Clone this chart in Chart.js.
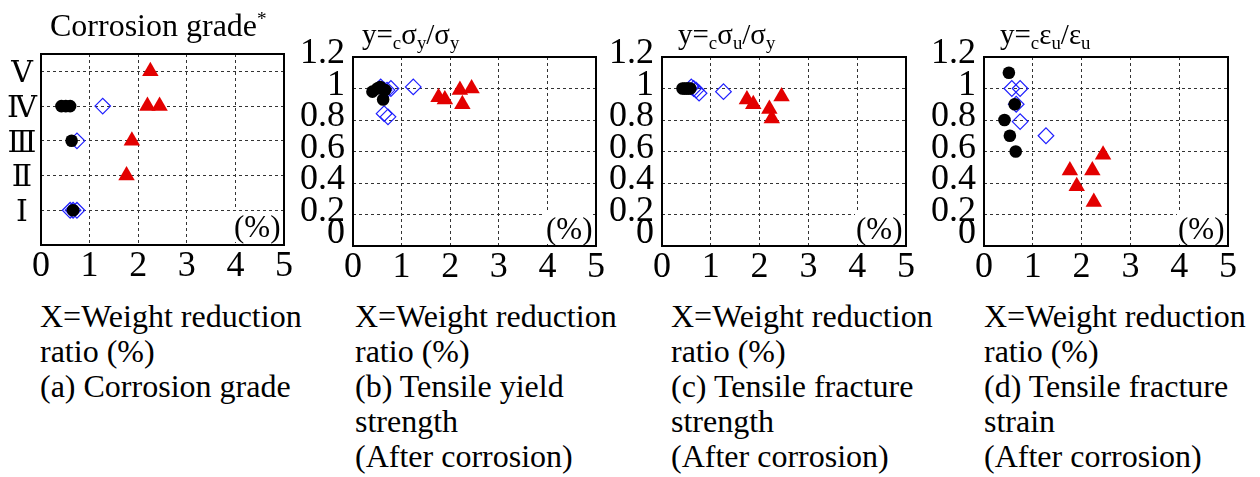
<!DOCTYPE html>
<html>
<head>
<meta charset="utf-8">
<script src="https://cdn.jsdelivr.net/npm/chart.js@4.4.1/dist/chart.umd.min.js"></script>
<style>
  body { margin: 0; width: 1260px; height: 477px; background: #fff; overflow: hidden; position: relative;
         font-family: 'Times New Roman', Tinos, 'Liberation Serif', 'Nimbus Roman', 'DejaVu Serif', 'Noto Serif', serif; color: #000; }
  canvas { position: absolute; }
  .title { position: absolute; white-space: nowrap; }
  .title sub { font-size: 0.65em; vertical-align: -0.28em; line-height: 0; }
  .title sup { font-size: 0.6em; vertical-align: 0.55em; line-height: 0; }
  .cap { position: absolute; top: 299px; font-size: 32px; line-height: 35px; white-space: nowrap; }
  .pct { position: absolute; font-size: 31px; line-height: 31px; background: #fff; z-index: 5; padding: 0 1px; }
</style>
</head>
<body>
<canvas id="chartA" width="300" height="256" style="left:0px;top:34px"></canvas>
<canvas id="chartB" width="319" height="254" style="left:293px;top:37px"></canvas>
<canvas id="chartC" width="320" height="254" style="left:602px;top:37px"></canvas>
<canvas id="chartD" width="320" height="254" style="left:924px;top:37px"></canvas>

<div class="title" style="left:50px;top:9px;font-size:32px;line-height:32px">Corrosion grade<sup>*</sup></div>
<div class="title" style="left:362px;top:20px;font-size:29px;line-height:29px">y=<sub>c</sub>σ<sub>y</sub>/σ<sub>y</sub></div>
<div class="title" style="left:678px;top:20px;font-size:29px;line-height:29px">y=<sub>c</sub>σ<sub>u</sub>/σ<sub>y</sub></div>
<div class="title" style="left:1000px;top:20px;font-size:29px;line-height:29px">y=<sub>c</sub>ε<sub>u</sub>/ε<sub>u</sub></div>

<div class="pct" style="left:233px;top:211px">(%)</div>
<div class="pct" style="left:545px;top:213px">(%)</div>
<div class="pct" style="left:855px;top:213px">(%)</div>
<div class="pct" style="left:1177px;top:213px">(%)</div>

<div class="cap" style="left:40px">X=Weight reduction<br>ratio (%)<br>(a) Corrosion grade</div>
<div class="cap" style="left:355px">X=Weight reduction<br>ratio (%)<br>(b) Tensile yield<br>strength<br>(After corrosion)</div>
<div class="cap" style="left:671px">X=Weight reduction<br>ratio (%)<br>(c) Tensile fracture<br>strength<br>(After corrosion)</div>
<div class="cap" style="left:984px">X=Weight reduction<br>ratio (%)<br>(d) Tensile fracture<br>strain<br>(After corrosion)</div>

<script>
// tick labels
const xTickLabels = ['0', '1', '2', '3', '4', '5'];
const ratioTickLabels = ['0', '0.2', '0.4', '0.6', '0.8', '1', '1.2'];
const gradeTickLabels = ['', 'Ⅰ', 'Ⅱ', 'Ⅲ', 'Ⅳ', 'Ⅴ'];

// (a) corrosion grade, [weight reduction %, grade]
const gradeCircles = [[0.42, 4], [0.51, 4], [0.6, 4], [0.63, 3], [0.66, 1]];
const gradeDiamonds = [[1.27, 4], [0.74, 3], [0.6, 1], [0.66, 1], [0.74, 1]];
const gradeTriangles = [[2.25, 5], [2.19, 4], [2.44, 4], [1.87, 3], [1.76, 2]];

// (b) tensile yield strength ratio
const yieldCircles = [[0.4, 0.98], [0.5, 1.0], [0.56, 1.01], [0.62, 0.93], [0.66, 0.99]];
const yieldDiamonds = [[0.57, 1.01], [0.64, 0.99], [0.7, 0.99], [0.78, 1.0], [1.24, 1.01], [0.64, 0.84], [0.72, 0.82]];
const yieldTriangles = [[1.76, 0.945], [1.89, 0.93], [2.2, 0.99], [2.44, 1.0], [2.25, 0.9]];

// (c) tensile fracture strength ratio
const fractureCircles = [[0.42, 1.0], [0.46, 1.0], [0.5, 1.0], [0.54, 1.0], [0.58, 1.0]];
const fractureDiamonds = [[0.6, 1.01], [0.65, 1.0], [0.7, 0.99], [0.76, 0.97], [1.26, 0.98]];
const fractureTriangles = [[1.74, 0.93], [1.87, 0.9], [2.2, 0.87], [2.25, 0.81], [2.45, 0.95]];

// (d) tensile fracture strain ratio
const strainCircles = [[0.51, 1.1], [0.63, 0.9], [0.42, 0.8], [0.53, 0.7], [0.65, 0.6]];
const strainDiamonds = [[0.57, 1.0], [0.74, 1.0], [0.66, 0.9], [0.74, 0.79], [1.27, 0.7]];
const strainTriangles = [[1.76, 0.48], [1.9, 0.38], [2.22, 0.48], [2.25, 0.28], [2.44, 0.58]];

const FONT = "'Times New Roman', Tinos, 'Liberation Serif', 'Nimbus Roman', 'DejaVu Serif', 'Noto Serif', serif";
const RED = '#e30000';
const BLUE = '#1f1fff';
const CLEAR = 'rgba(0,0,0,0)';

const toPoints = arr => arr.map(p => ({ x: p[0], y: p[1] }));

// solid box round the plot area
const frame = {
  id: 'frame',
  afterDraw(chart) {
    const { ctx, chartArea: a } = chart;
    ctx.save();
    ctx.lineWidth = 2;
    ctx.strokeStyle = '#000';
    ctx.strokeRect(a.left, a.top, a.right - a.left, a.bottom - a.top);
    ctx.restore();
  }
};

function makePanel(id, circles, diamonds, triangles, yAxis, yAxisWidth) {
  return new Chart(document.getElementById(id), {
    type: 'scatter',
    data: {
      datasets: [
        { data: toPoints(circles), pointStyle: 'circle', pointRadius: 6.3,
          backgroundColor: '#000', borderColor: '#000', borderWidth: 0 },
        { data: toPoints(diamonds), pointStyle: 'rectRot', pointRadius: 7.8,
          backgroundColor: CLEAR, borderColor: BLUE, borderWidth: 1.2 },
        { data: toPoints(triangles), pointStyle: 'triangle', pointRadius: 9.5,
          backgroundColor: RED, borderColor: RED, borderWidth: 0 }
      ]
    },
    options: {
      responsive: false,
      animation: false,
      events: [],
      layout: { padding: { left: 0, top: 20, right: 16, bottom: 0 } },
      plugins: { legend: { display: false }, tooltip: { enabled: false } },
      scales: {
        x: {
          type: 'linear', min: 0, max: 5,
          ticks: {
            stepSize: 1, autoSkip: false, maxRotation: 0, color: '#000', padding: 0,
            font: { family: FONT, size: 36 },
            callback: (v, i) => xTickLabels[i]
          },
          grid: {
            drawTicks: false, lineWidth: 1,
            color: c => (c.index === 0 || c.index === 5) ? CLEAR : '#333'
          },
          border: { display: false, dash: [3, 3] },
          afterFit(s) { s.height = 45; s.paddingLeft = 0; s.paddingRight = 0; }
        },
        y: Object.assign({
          type: 'linear',
          grid: {
            drawTicks: false, lineWidth: 1,
            color: c => (c.tick && (c.tick.value <= 0 || c.tick.value >= yAxis.max)) ? CLEAR : '#333'
          },
          border: { display: false, dash: [3, 3] },
          afterFit(s) { s.width = yAxisWidth; s.paddingTop = 0; s.paddingBottom = 0; }
        }, yAxis)
      }
    },
    plugins: [frame]
  });
}

// the "0" label sits a little higher, clear of the x axis labels
const ratioAxis = {
  min: 0, max: 1.2,
  ticks: {
    stepSize: 0.2, autoSkip: false, color: '#000', padding: 8, labelOffset: -3,
    font: c => ({ family: FONT, size: 36, lineHeight: c.index === 0 ? 0.55 : 1.2 }),
    callback: (v, i) => i === 0 ? [ratioTickLabels[i], ''] : ratioTickLabels[i]
  }
};

const gradeAxis = {
  min: 0, max: 5.5,
  afterBuildTicks(s) { s.ticks = [1, 2, 3, 4, 5].map(v => ({ value: v })); },
  ticks: {
    autoSkip: false, color: '#000', padding: 4, labelOffset: 3, crossAlign: 'center',
    font: { family: FONT, size: 30 },
    callback: v => gradeTickLabels[v]
  }
};

makePanel('chartA', gradeCircles, gradeDiamonds, gradeTriangles, gradeAxis, 41);
makePanel('chartB', yieldCircles, yieldDiamonds, yieldTriangles, ratioAxis, 60);
makePanel('chartC', fractureCircles, fractureDiamonds, fractureTriangles, ratioAxis, 60);
makePanel('chartD', strainCircles, strainDiamonds, strainTriangles, ratioAxis, 60);
</script>
</body>
</html>
